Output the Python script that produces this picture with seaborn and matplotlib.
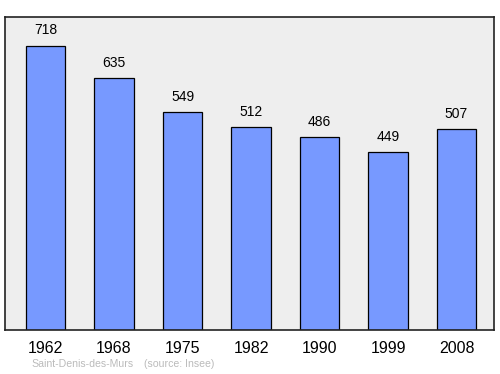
import matplotlib
matplotlib.use("Agg")
import matplotlib.pyplot as plt
from matplotlib import font_manager
import seaborn as sns
import pandas as pd

years = ["1962", "1968", "1975", "1982", "1990", "1999", "2008"]
population = [718, 635, 549, 512, 486, 449, 507]
commune = "Saint-Denis-des-Murs"
source = "(source: Insee)"

sns.set_theme(style="white")

fam = "DejaVu Sans"
fp = None
for f in font_manager.findSystemFonts():
    if f.endswith("LiberationSans-Regular.ttf"):
        font_manager.fontManager.addfont(f)
        fp = font_manager.FontProperties(fname=f)
        fam = fp.get_name()
        break

plt.rcParams["font.family"] = [fam, "DejaVu Sans"]

def props(size):
    if fp is not None:
        p = fp.copy()
        p.set_size(size)
        return p
    return font_manager.FontProperties(family=fam, size=size)

df = pd.DataFrame({"year": years, "pop": population})

fig = plt.figure(figsize=(5.0, 3.74), dpi=100)
ax = fig.add_axes([5 / 500, 1 - 330 / 374, 489 / 500, 313 / 374])
ax.set_facecolor("#eeeeee")

sns.barplot(data=df, x="year", y="pop", color="#7799ff", saturation=1,
            edgecolor="black", linewidth=0.9, width=0.57, ax=ax)

for i, v in enumerate(population):
    ax.annotate(str(v), (i, v), xytext=(0, 6), textcoords="offset points",
                ha="center", va="bottom", color="black", fontproperties=props(10))

ax.set_xlim(-0.591, 6.547)
ax.set_ylim(0, 790)
ax.set_yticks([])
ax.set_xlabel("")
ax.set_ylabel("")
ax.tick_params(axis="x", length=0, pad=8, colors="black")
for lab in ax.get_xticklabels():
    lab.set_fontproperties(props(11.5))
for s in ax.spines.values():
    s.set_visible(True)
    s.set_color("#222222")
    s.set_linewidth(1.2)

fig.text(31 / 500, 1 - 364 / 374, commune, color="#bbbbbb", ha="left", va="center", fontproperties=props(7.6))
fig.text(144 / 500, 1 - 364 / 374, source, color="#bbbbbb", ha="left", va="center", fontproperties=props(7.6))

fig.savefig("out.png", dpi=100, facecolor="white")
